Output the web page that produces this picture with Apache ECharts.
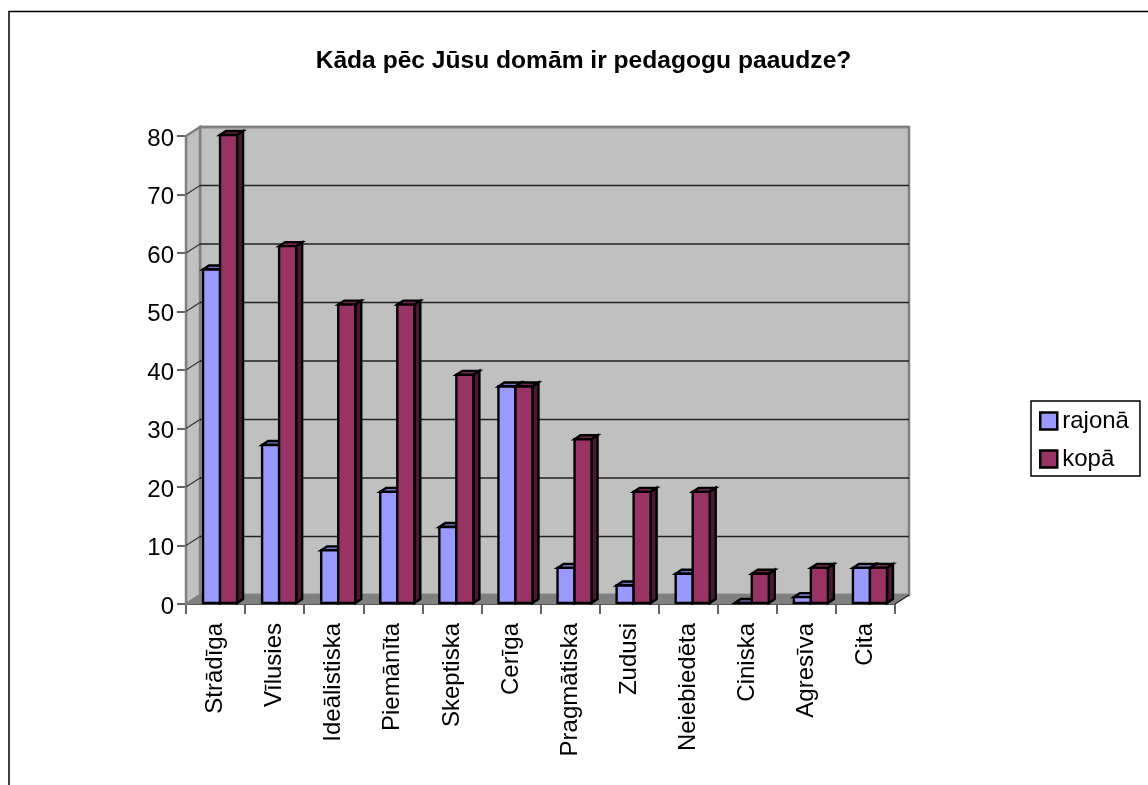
<!DOCTYPE html>
<html><head><meta charset="utf-8">
<style>html,body{margin:0;padding:0;background:#fff}#c{width:1148px;height:785px}</style>
<script src="https://cdn.jsdelivr.net/npm/echarts@6/dist/echarts.min.js"></script>
</head><body><div id="c"></div>
<script>
const titleText = 'Kāda pēc Jūsu domām ir pedagogu paaudze?';
const categories = ['Strādīga','Vīlusies','Ideālistiska','Piemānīta','Skeptiska','Cerīga','Pragmātiska','Zudusi','Neiebiedēta','Ciniska','Agresīva','Cita'];
const rajona = [57,27,9,19,13,37,6,3,5,0,1,6];
const kopa = [80,61,51,51,39,37,28,19,19,5,6,6];
const yTicks = [0,10,20,30,40,50,60,70,80];

const DX = 14, DY = -9;      // wall depth
const BDX = 6, BDY = -4;     // bar depth
const FONT = '"Liberation Sans", Arial, sans-serif';

function poly(points, fill, stroke, lw){
  return {type:'polygon', shape:{points}, style:{fill, stroke, lineWidth:lw, lineJoin:'miter'}};
}
function line(x1,y1,x2,y2,stroke,lw){
  return {type:'line', shape:{x1,y1,x2,y2}, style:{stroke, lineWidth:lw}};
}
function wallsItem(params){
  const c = params.coordSys;
  const l=c.x, r=c.x+c.width, t=c.y, b=c.y+c.height;
  return {type:'group', children:[
    poly([[l+DX,t+DY],[r+DX,t+DY],[r+DX,b+DY],[l+DX,b+DY]],'#C0C0C0','#808080',2.5),
    poly([[l,t],[l+DX,t+DY],[l+DX,b+DY],[l,b]],'#C0C0C0','#808080',2.5),
    poly([[l,b],[l+DX,b+DY],[r+DX,b+DY],[r,b]],'#808080','#808080',1)
  ]};
}
function gridItem(params, api){
  const c = params.coordSys;
  const v = api.value(0);
  const p = api.coord([0, v]);
  const y = p[1];
  const col = (v===80||v===0) ? '#808080' : '#222222';
  const kids = [line(c.x+DX, y+DY, c.x+c.width+DX, y+DY, col, (v===80||v===0)?2.5:1.5)];
  if(v!==80 && v!==0) kids.push(line(c.x, y, c.x+DX, y+DY, '#333333', 1.2));
  if(v===0) kids.push(line(c.x+c.width, y, c.x+c.width+DX, y+DY, '#222222', 1.2));
  return {type:'group', children:kids};
}
function barRenderer(seriesIndex, front, top, side){
  return function(params, api){
    const idx = api.value(0), val = api.value(1);
    const band = api.size([1,0])[0];
    const w = band*17/59;
    const tp = api.coord([idx, val]);
    const bp = api.coord([idx, 0]);
    const cx = tp[0] + 4.5;
    const x0 = cx + (seriesIndex-1)*w, x1 = x0 + w;
    const y0 = tp[1]-1, y1 = bp[1]-1;
    return {type:'group', children:[
      poly([[x0,y0],[x0+BDX,y0+BDY],[x1+BDX,y0+BDY],[x1,y0]],top,'#000',2.4),
      poly([[x1,y0],[x1+BDX,y0+BDY],[x1+BDX,y1+BDY],[x1,y1]],side,'#000',2.4),
      poly([[x0,y0],[x1,y0],[x1,y1],[x0,y1]],front,'#000',2.4)
    ]};
  };
}
const chart = echarts.init(document.getElementById('c'), null, {renderer:'canvas'});
chart.setOption({
  animation:false,
  backgroundColor:'#fff',
  textStyle:{fontFamily:FONT},
  title:{text:titleText,left:578.5,top:44,textAlign:'center',
    textStyle:{fontFamily:FONT,fontSize:24.6,fontWeight:'bold',color:'#000'}},
  grid:{left:186,top:136,width:709,height:468,containLabel:false},
  legend:{
    left:1031,top:401,orient:'vertical',
    padding:[8,11,5,8],itemGap:14,itemWidth:17,itemHeight:17,
    borderColor:'#000',borderWidth:1.5,backgroundColor:'#fff',
    data:[
      {name:'rajonā',icon:'rect',itemStyle:{color:'#9999FF',borderColor:'#000',borderWidth:2.5}},
      {name:'kopā',icon:'rect',itemStyle:{color:'#993366',borderColor:'#000',borderWidth:2.5}}
    ],
    textStyle:{fontFamily:FONT,fontSize:24,color:'#000',padding:[0,0,0,0]}
  },
  xAxis:{type:'category',data:categories,boundaryGap:true,
    axisLine:{show:true,lineStyle:{color:'#333',width:2}},
    axisTick:{show:true,length:10,alignWithLabel:false,lineStyle:{color:'#333',width:1.5}},
    axisLabel:{rotate:90,interval:0,fontFamily:FONT,fontSize:24,color:'#000',margin:19},
    splitLine:{show:false}},
  yAxis:{type:'value',min:0,max:80,interval:10,
    axisLine:{show:true,lineStyle:{color:'#333',width:2}},
    axisTick:{show:true,length:9,lineStyle:{color:'#333',width:1.5}},
    axisLabel:{fontFamily:FONT,fontSize:24,color:'#000',margin:12,verticalAlign:'top',lineHeight:6},
    splitLine:{show:false}},
  series:[
    {type:'custom',name:'walls',silent:true,z:1,coordinateSystem:'cartesian2d',renderItem:wallsItem,data:[[0,0]],encode:{x:0,y:1}},
    {type:'custom',name:'wallGrid',silent:true,z:2,coordinateSystem:'cartesian2d',renderItem:function(p,a){return gridItem(p,a);},data:yTicks.map(v=>[v]),encode:{y:0}},
    {type:'custom',name:'rajonā',z:3,itemStyle:{color:'#9999FF'},coordinateSystem:'cartesian2d',
      renderItem:barRenderer(0,'#9999FF','#7373BF','#4C4C80'),data:rajona.map((v,i)=>[i,v]),encode:{x:0,y:1}},
    {type:'custom',name:'kopā',z:4,itemStyle:{color:'#993366'},coordinateSystem:'cartesian2d',
      renderItem:barRenderer(1,'#993366','#73264C','#4C1933'),data:kopa.map((v,i)=>[i,v]),encode:{x:0,y:1}}
  ],
  graphic:[
    {type:'polyline',silent:true,shape:{points:[[9,785],[9,11.5],[1148,11.5]]},style:{stroke:'#000',lineWidth:1.5,fill:null}}
  ]
});
</script></body></html>
